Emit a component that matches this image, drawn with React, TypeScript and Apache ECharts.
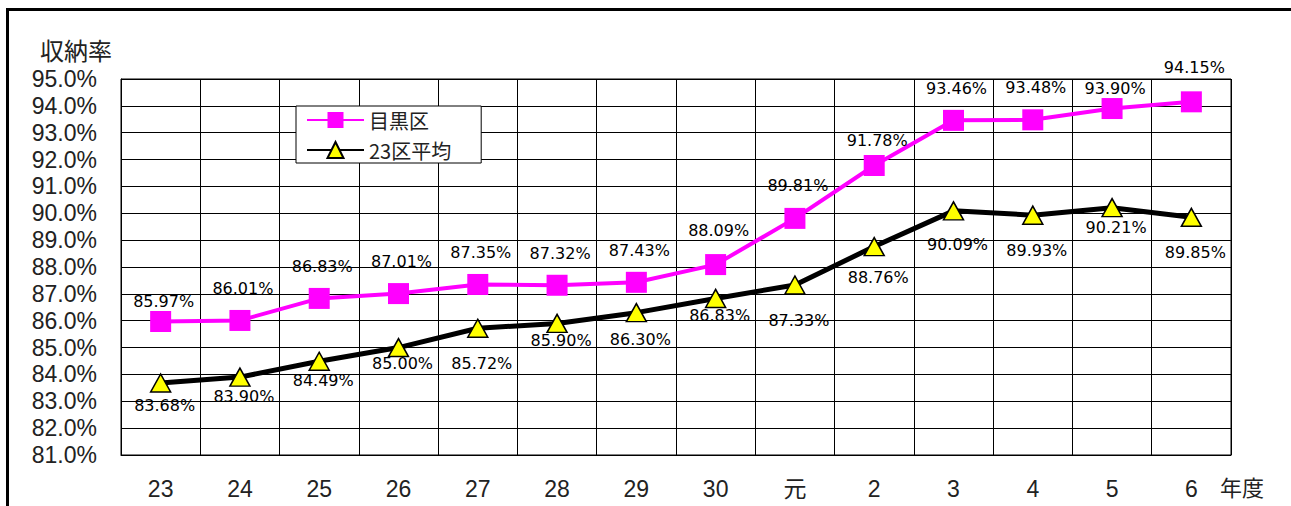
import React, { useEffect, useRef } from "react";
import * as echarts from "echarts";

// 年度 categories (平成23 … 令和6)
const years = ["23", "24", "25", "26", "27", "28", "29", "30", "元", "2", "3", "4", "5", "6"];

// 収納率 (%)
const meguro = [85.97, 86.01, 86.83, 87.01, 87.35, 87.32, 87.43, 88.09, 89.81, 91.78, 93.46, 93.48, 93.9, 94.15];
const wardAverage = [83.68, 83.9, 84.49, 85.0, 85.72, 85.9, 86.3, 86.83, 87.33, 88.76, 90.09, 89.93, 90.21, 89.85];

// y-axis range (%)
const yMin = 81;
const yMax = 95;
const yStep = 1;

// how far each value label sits from its marker (px): above for 目黒区, below for 23区平均
const meguroLabelLift = [20, 32, 32, 32, 32, 32, 32, 34, 33, 25, 32, 32, 20, 34];
const averageLabelDrop = [22, 19, 19, 16, 35, 17, 27, 17, 36, 31, 34, 35, 20, 35];

const LATIN = "'Liberation Sans', Arial, 'Noto Sans CJK JP', sans-serif";
const CJK = "'Noto Sans CJK JP', sans-serif";
const LABEL_FONT = "'DejaVu Sans', sans-serif";

const pct = (v: number) => v.toFixed(2) + "%";

export default function App() {
  const ref = useRef<HTMLDivElement>(null);

  useEffect(() => {
    document.body.style.margin = "0";
    if (!ref.current) return;
    const chart = echarts.init(ref.current, undefined, { renderer: "svg" });

    const valueLabel = {
      show: true,
      position: "inside" as const,
      color: "#000",
      fontFamily: LABEL_FONT,
      fontSize: 16,
      formatter: (p: any) => pct(p.value),
    };

    chart.setOption({
      animation: false,
      backgroundColor: "#fff",
      grid: {
        left: 121,
        top: 79,
        right: 60,
        bottom: 51,
        show: true,
        borderColor: "#000",
        borderWidth: 1,
      },
      legend: {
        orient: "vertical",
        left: 296,
        top: 106,
        padding: [2, 30, 1, 10],
        itemGap: 6,
        itemWidth: 57,
        itemHeight: 20,
        backgroundColor: "#fff",
        borderColor: "#000",
        borderWidth: 1,
        borderRadius: 0,
        textStyle: { fontFamily: CJK, fontSize: 20, color: "#222", lineHeight: 24 },
        data: ["目黒区", "23区平均"],
      },
      xAxis: {
        type: "category",
        data: years,
        boundaryGap: true,
        axisLine: { show: true, lineStyle: { color: "#000", width: 1 } },
        axisTick: { show: false },
        splitLine: { show: true, lineStyle: { color: "#000", width: 1 } },
        axisLabel: {
          margin: 22,
          fontFamily: LATIN,
          fontSize: 23,
          color: "#222",
        },
      },
      yAxis: {
        type: "value",
        min: yMin,
        max: yMax,
        interval: yStep,
        axisLine: { show: true, lineStyle: { color: "#000", width: 1 } },
        axisTick: { show: false },
        splitLine: { show: true, lineStyle: { color: "#000", width: 1 } },
        axisLabel: {
          margin: 24,
          fontFamily: LATIN,
          fontSize: 23,
          color: "#222",
          formatter: (v: number) => v.toFixed(1) + "%",
        },
      },
      graphic: [
        {
          type: "rect",
          shape: { x: 7.5, y: 9.5, width: 1400, height: 600 },
          style: { fill: "none", stroke: "#000", lineWidth: 3 },
          silent: true,
        },
        {
          type: "text",
          left: 40,
          top: 37,
          style: { text: "収納率", fontFamily: CJK, fontSize: 24, fill: "#222" },
        },
        {
          type: "text",
          left: 1220,
          top: 475,
          style: { text: "年度", fontFamily: CJK, fontSize: 22, fill: "#222" },
        },
      ],
      series: [
        {
          name: "23区平均",
          type: "line",
          z: 2,
          data: wardAverage.map((v, i) => ({
            value: v,
            label: { offset: [4, averageLabelDrop[i]] },
          })),
          symbol: "triangle",
          symbolSize: [20, 18],
          lineStyle: { color: "#000", width: 5 },
          itemStyle: { color: "#ffff00", borderColor: "#000", borderWidth: 1.5 },
          label: valueLabel,
        },
        {
          name: "目黒区",
          type: "line",
          z: 3,
          data: meguro.map((v, i) => ({
            value: v,
            label: { offset: [3, -meguroLabelLift[i]] },
          })),
          symbol: "rect",
          symbolSize: 21,
          lineStyle: { color: "#ff00ff", width: 4 },
          itemStyle: { color: "#ff00ff", borderWidth: 0 },
          label: valueLabel,
        },
      ],
    });

    return () => chart.dispose();
  }, []);

  return <div ref={ref} style={{ width: 1291, height: 506 }} />;
}
